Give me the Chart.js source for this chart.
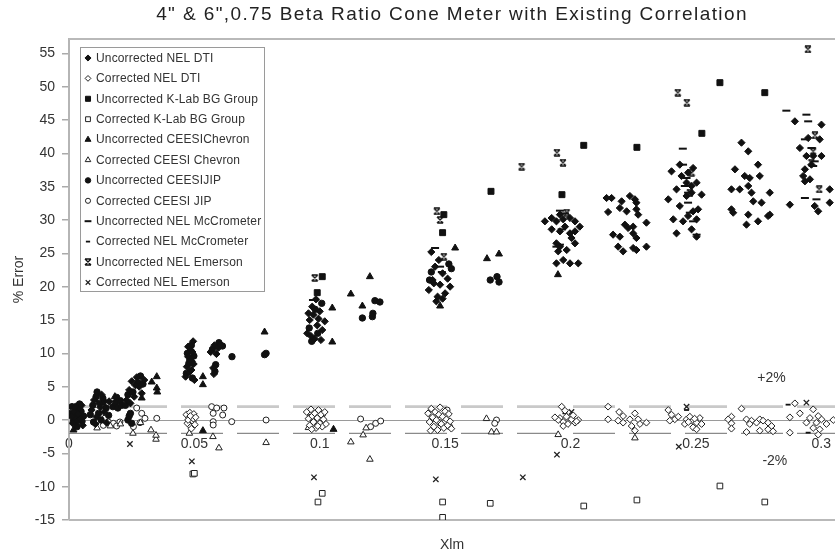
<!DOCTYPE html>
<html><head><meta charset="utf-8">
<script src="https://cdn.jsdelivr.net/npm/chart.js@4/dist/chart.umd.min.js"></script>
<style>html,body{margin:0;padding:0;background:#fff;}#wrap{width:835px;height:556px;position:relative;}</style>
</head><body><div id="wrap"><canvas id="c" width="835" height="556"></canvas></div>
<script>
const chartTitle = '4" & 6",0.75 Beta Ratio Cone Meter with Existing Correlation';
const xAxisTitle = 'Xlm';
const yAxisTitle = '% Error';
const xTicks = [0, 0.05, 0.1, 0.15, 0.2, 0.25, 0.3];
const xTickLabels = ['0', '0.05', '0.1', '0.15', '0.2', '0.25', '0.3'];
const yTicks = [-15, -10, -5, 0, 5, 10, 15, 20, 25, 30, 35, 40, 45, 50, 55];
const yTickLabels = ['-15', '-10', '-5', '0', '5', '10', '15', '20', '25', '30', '35', '40', '45', '50', '55'];
const bandLimits = [2, -2];
const bandLabels = ['+2%', '-2%'];
const bandLabelAt = [[0.2802, 6.3], [0.2815, -6.1]];
const seriesNames = ['Uncorrected NEL DTI', 'Corrected NEL DTI', 'Uncorrected K-Lab BG Group', 'Corrected K-Lab BG Group',
  'Uncorrected CEESIChevron', 'Corrected CEESI Chevron', 'Uncorrected CEESIJIP', 'Corrected CEESI JIP',
  'Uncorrected NEL McCrometer', 'Corrected NEL McCrometer', 'Uncorrected NEL Emerson', 'Corrected NEL Emerson'];

const uncorrectedNelDti = [
  [0.001,0.5],[0.002,1.2],[0.003,-0.3],[0.004,1.8],[0.0045,0.2],[0.005,2.2],[0.0055,-0.8],[0.0025,2.0],[0.0035,0.9],[0.0015,-0.5],
  [0.009,1.5],[0.010,3.0],[0.011,0.5],[0.012,2.5],[0.013,3.8],[0.014,1.2],[0.015,-0.4],[0.0105,-0.6],[0.0125,1.9],[0.016,2.8],
  [0.023,3.0],[0.024,4.5],[0.025,5.8],[0.026,3.5],[0.027,6.4],[0.028,5.0],[0.029,4.0],[0.0245,2.5],[0.0265,5.2],[0.030,6.0],
  [0.0465,6.5],[0.047,8.0],[0.0475,9.5],[0.048,7.2],[0.0485,10.5],[0.049,8.8],[0.0495,11.8],[0.050,6.0],[0.0475,11.0],[0.0482,9.0],[0.0488,7.5],[0.0492,10.2],[0.0497,8.4],
  [0.0565,10.2],[0.058,11.2],[0.0595,10.8],[0.0605,11.3],[0.0588,9.9],[0.0575,7.8],[0.0578,6.9],
  [0.095,13.0],[0.096,15.0],[0.097,17.0],[0.098,12.2],[0.099,14.2],[0.100,16.3],[0.101,13.5],[0.0965,12.6],[0.0975,15.8],[0.0985,18.1],[0.0995,15.2],[0.0955,16.0],[0.1005,12.0],[0.102,14.8],
  [0.1435,19.5],[0.145,21.0],[0.146,23.0],[0.147,18.5],[0.148,20.3],[0.149,22.0],[0.150,19.0],[0.151,21.2],[0.1445,25.2],[0.1465,17.8],[0.1475,24.0],[0.149,18.2],[0.152,20.0],[0.1455,20.5],
  [0.1898,29.8],[0.1925,30.3],[0.1944,29.8],[0.1971,30.1],[0.1998,30.3],[0.2018,29.8],[0.2037,29.0],[0.1925,28.6],[0.1958,28.3],[0.1998,28.0],[0.2004,27.3],[0.2018,26.5],
  [0.1944,26.5],[0.1958,26.0],[0.1985,25.5],[0.1951,25.3],[0.1971,24.0],[0.1998,23.5],[0.2031,23.5],[0.1944,23.5],[0.1958,30.8],[0.1978,29.0],[0.2018,28.3],
  [0.2144,33.3],[0.2164,33.3],[0.2204,32.8],[0.2237,33.6],[0.2257,33.1],[0.2263,32.6],[0.2150,31.2],[0.2197,31.8],[0.2224,31.3],[0.2263,31.6],[0.2270,30.8],[0.2303,29.6],
  [0.2217,29.3],[0.2230,28.8],[0.2170,27.8],[0.2197,27.5],[0.2250,28.0],[0.2263,27.3],[0.2190,26.0],[0.2210,25.3],[0.2250,25.8],[0.2263,25.5],[0.2303,26.0],[0.2250,29.0],
  [0.2403,37.3],[0.2436,38.3],[0.2469,37.1],[0.2489,37.8],[0.2390,33.1],[0.2423,34.6],[0.2436,32.1],[0.2463,33.6],[0.2483,34.1],[0.2503,35.6],[0.2523,33.8],[0.2410,30.1],
  [0.2423,28.0],[0.2449,29.8],[0.2469,30.6],[0.2489,31.3],[0.2503,30.1],[0.2509,31.6],[0.2483,28.6],[0.2503,27.5],[0.2443,36.6],[0.2463,35.6],[0.2483,35.1],
  [0.2682,41.6],[0.2709,40.3],[0.2748,38.3],[0.2656,37.6],[0.2695,36.6],[0.2715,36.3],[0.2642,34.6],[0.2675,34.6],[0.2709,35.1],[0.2722,34.1],[0.2755,36.6],
  [0.2795,34.1],[0.2729,32.8],[0.2762,32.6],[0.2642,31.6],[0.2649,31.1],[0.2709,30.8],[0.2702,29.3],[0.2748,29.8],[0.2788,30.6],[0.2795,30.8],
  [0.2895,44.8],[0.3001,44.3],[0.2915,40.8],[0.2948,42.3],[0.2994,42.1],[0.2941,39.6],[0.2968,39.6],[0.3001,39.6],[0.2935,37.6],[0.2961,38.3],[0.2935,35.8],
  [0.2955,36.1],[0.2875,32.3],[0.3034,34.6],[0.3034,32.6],[0.2974,32.1],[0.2988,31.3],[0.2928,36.6]
];
const correctedNelDti = [
  [0.0468,0.8],[0.0472,-0.5],[0.0478,0.3],[0.0482,1.1],[0.0486,-1.0],[0.049,0.5],[0.0494,-0.2],[0.0498,0.9],[0.0502,-0.7],[0.0475,0.0],[0.0488,-1.3],[0.0496,0.2],[0.0484,0.6],[0.0505,0.4],
  [0.0948,1.2],[0.0955,0.2],[0.096,-0.8],[0.0965,1.6],[0.097,0.6],[0.0975,-0.3],[0.098,1.0],[0.0985,-1.2],[0.099,0.3],[0.0995,1.5],[0.100,-0.5],[0.1005,0.8],[0.101,-1.0],[0.1015,0.1],[0.102,1.2],[0.1025,-0.6],[0.0968,-1.4],[0.0992,-0.9],
  [0.1432,1.0],[0.1438,-0.3],[0.1445,1.7],[0.145,0.4],[0.1455,-1.0],[0.146,1.2],[0.1465,0.0],[0.147,-1.5],[0.1475,0.8],[0.148,1.9],[0.1485,-0.6],[0.149,0.5],[0.1495,-1.2],[0.150,1.3],[0.1505,0.1],[0.151,-0.8],[0.1515,0.9],[0.152,-0.2],[0.1525,-1.3],[0.1442,-1.6],
  [0.1958,0.3],[0.1971,-0.3],[0.1984,0.5],[0.2004,0.1],[0.2018,-0.4],[0.2031,0.0],[0.1971,-0.9],[0.1990,-0.6],[0.2011,0.7],[0.1951,0.0],[0.1978,1.4],[0.1965,2.0],[0.2024,-0.2],[0.1938,0.4],
  [0.2150,2.0],[0.2194,1.2],[0.2150,0.1],[0.2190,-0.1],[0.2210,-0.4],[0.2237,0.1],[0.2257,1.0],[0.2270,0.1],[0.2277,-0.6],[0.2303,-0.4],[0.2244,-0.9],[0.2257,-1.6],[0.2210,0.6],
  [0.2390,1.5],[0.2403,0.8],[0.2416,0.1],[0.2430,0.5],[0.2463,0.1],[0.2483,-0.1],[0.2503,-0.4],[0.2516,0.3],[0.2489,-1.1],[0.2503,-1.4],[0.2523,-0.6],[0.2476,0.5],[0.2456,-0.6],[0.2396,-0.1],[0.2470,-0.3],[0.2495,0.2],
  [0.2642,0.5],[0.2682,1.7],[0.2642,-0.5],[0.2642,-1.3],[0.2702,0.1],[0.2722,-0.1],[0.2742,-0.4],[0.2755,0.1],[0.2768,-0.1],[0.2788,-0.4],[0.2802,-0.9],[0.2808,-1.7],[0.2702,-1.8],[0.2755,-1.6],[0.2788,-1.4],[0.2715,-0.6],[0.2629,0.1],
  [0.2895,2.5],[0.2915,1.0],[0.2955,0.3],[0.2981,-0.4],[0.3001,0.1],[0.3021,-0.6],[0.3048,0.0],[0.2875,-1.9],[0.2968,-1.2],[0.2994,-1.4],[0.2988,-2.2],[0.2941,-0.4],[0.2968,1.6],[0.2988,0.6],[0.2875,0.4]
];
const uncorrectedKLab = [[0.099,19.1],[0.101,21.5],[0.149,28.1],[0.1495,30.8],[0.1683,34.3],[0.1966,33.8],[0.2053,41.2],[0.2265,40.9],[0.2524,43.0],[0.2596,50.6],[0.2775,49.1]];
const correctedKLab = [[0.0494,-8.1],[0.0500,-8.0],[0.101,-11.0],[0.0993,-12.3],[0.149,-12.3],[0.149,-14.6],[0.168,-12.5],[0.2053,-12.9],[0.2265,-12.0],[0.2596,-9.9],[0.2775,-12.3]];
const uncorrectedChevron = [[0.0018,-1.5],[0.0105,3.0],[0.0135,2.5],[0.0183,3.5],[0.029,3.3],[0.033,5.7],[0.035,6.5],[0.035,4.8],[0.0352,4.2],
  [0.0534,6.5],[0.0534,5.3],[0.0534,-1.6],[0.078,13.2],[0.105,16.8],[0.105,11.7],[0.1055,-1.4],[0.1124,18.9],[0.120,21.5],[0.117,17.1],
  [0.154,25.8],[0.148,17.1],[0.1667,24.2],[0.1715,24.9],[0.195,21.8]];
const correctedChevron = [[0.0112,-1.2],[0.0165,-0.9],[0.0205,-0.6],[0.0255,-2.0],[0.0285,-0.4],[0.0327,-1.5],[0.0347,-2.9],[0.0347,-2.3],[0.048,-2.0],
  [0.0574,-2.5],[0.0598,-4.2],[0.0786,-3.4],[0.0955,-1.15],[0.1124,-3.3],[0.120,-5.9],[0.1173,-2.25],[0.1185,-1.2],[0.1665,0.2],[0.1685,-1.8],
  [0.1705,-1.8],[0.1951,-2.2],[0.2257,-2.7]];
const uncorrectedJip = [
  [0.0008,1.0],[0.0018,-0.2],[0.0028,1.6],[0.0038,0.3],[0.0048,1.3],[0.0058,0.6],[0.0012,2.0],[0.0032,-1.0],[0.0052,-0.2],[0.0022,0.6],[0.0042,2.4],
  [0.0085,0.8],[0.0095,2.2],[0.0108,3.5],[0.0118,1.0],[0.0128,0.0],[0.0138,2.8],[0.0148,1.8],[0.0158,0.7],[0.0112,4.2],[0.0098,-0.3],[0.0135,3.3],
  [0.0175,2.0],[0.0185,2.6],[0.0195,1.8],[0.0205,2.9],[0.021,2.2],[0.019,3.4],
  [0.0235,3.8],[0.0255,4.2],[0.0275,5.6],[0.0285,6.6],[0.0225,2.2],[0.0295,5.4],
  [0.0235,0.0],[0.024,0.6],[0.025,-0.5],[0.0245,1.0],
  [0.0468,7.0],[0.0478,8.5],[0.0488,11.2],[0.0498,9.6],[0.0472,10.0],[0.0492,6.3],
  [0.0572,10.6],[0.0598,11.6],[0.0612,11.1],[0.0585,8.3],[0.0582,7.3],
  [0.0650,9.5],[0.0786,10.0],[0.0780,9.8],
  [0.0958,13.8],[0.0982,16.6],[0.1008,17.5],[0.0968,11.8],[0.0992,13.0],
  [0.117,15.3],[0.121,15.5],[0.1212,16.0],[0.122,17.9],[0.124,17.7],
  [0.1445,22.2],[0.1515,23.4],[0.1525,22.7],[0.1438,21.0],
  [0.168,21.0],[0.1707,21.5],[0.1715,20.7]
];
const correctedJip = [
  [0.011,-0.2],[0.0137,-0.8],[0.0144,0.3],[0.0157,-0.3],[0.0177,-0.5],[0.019,-0.9],[0.0203,-0.3],[0.0257,-1.0],[0.027,1.8],[0.0283,-0.4],[0.029,1.0],[0.0303,0.25],[0.035,0.25],
  [0.0569,2.0],[0.0589,1.8],[0.0618,1.8],[0.0575,1.0],[0.0613,0.75],[0.0575,-0.25],[0.0575,-0.75],[0.0649,-0.25],[0.0786,0.0],
  [0.0962,0.4],[0.0988,-0.2],[0.1012,0.9],[0.1163,0.15],[0.1203,-1.0],[0.1223,-0.5],[0.1243,-0.15],
  [0.1448,0.2],[0.1478,-0.4],[0.1508,1.5],[0.1518,-1.0],[0.1705,0.0],[0.1698,-0.5]
];
const uncorrectedMcCrometer = [[0.0973,18.0],[0.146,25.8],[0.148,23.0],[0.1487,22.2],[0.1958,31.4],[0.1978,31.0],[0.1965,28.6],[0.1958,26.3],[0.1944,26.0],
  [0.2448,40.7],[0.2449,38.3],[0.2463,36.3],[0.2456,35.1],[0.2469,32.6],[0.2476,31.1],[0.2489,29.8],[0.2503,27.8],[0.2469,34.1],
  [0.2861,46.4],[0.2941,45.8],[0.2948,44.8],[0.2935,42.1],[0.2961,40.8],[0.2974,38.8],[0.2968,38.1],[0.2935,33.3],[0.2981,33.1]];
const correctedMcCrometer = [[0.2868,2.3],[0.2948,-1.9],[0.1978,1.0],[0.2463,1.5]];
const uncorrectedEmerson = [[0.098,21.3],[0.1467,31.3],[0.148,30.0],[0.1495,24.5],[0.1805,38.0],[0.1946,40.1],[0.197,38.6],[0.1985,31.1],
  [0.2428,49.1],[0.2464,47.6],[0.2483,37.1],[0.2476,34.1],[0.2947,55.6],[0.2975,42.7],[0.2992,34.6],[0.2968,40.3],[0.2961,38.6]];
const correctedEmerson = [[0.0243,-3.6],[0.049,-6.2],[0.0977,-8.6],[0.1463,-8.9],[0.181,-8.6],[0.1946,-5.2],[0.2432,-4.0],[0.2463,2.0],[0.2941,2.6],[0.2004,1.2]];

function makeStar(size, lw) {
  const c = document.createElement('canvas');
  c.width = size; c.height = size;
  const g = c.getContext('2d');
  g.strokeStyle = '#111'; g.lineWidth = lw;
  const a = 1, b = size - 1;
  g.beginPath();
  g.moveTo(a, a); g.lineTo(b, b); g.moveTo(b, a); g.lineTo(a, b);
  g.moveTo(a, a); g.lineTo(b, a); g.moveTo(a, b); g.lineTo(b, b);
  g.stroke();
  return c;
}
const starMarker = makeStar(8, 1.4);

const BLACK = '#111';
const styles = [
  {pointStyle: 'rectRot', radius: 3.6, fill: BLACK, border: BLACK, bw: 1},
  {pointStyle: 'rectRot', radius: 3.4, fill: '#fff', border: '#222', bw: 1},
  {pointStyle: 'rect', radius: 4.2, fill: BLACK, border: BLACK, bw: 1},
  {pointStyle: 'rect', radius: 4.0, fill: '#fff', border: '#222', bw: 1},
  {pointStyle: 'triangle', radius: 4.0, fill: BLACK, border: BLACK, bw: 1},
  {pointStyle: 'triangle', radius: 3.8, fill: '#fff', border: '#222', bw: 1},
  {pointStyle: 'circle', radius: 3.2, fill: BLACK, border: BLACK, bw: 1},
  {pointStyle: 'circle', radius: 3.0, fill: '#fff', border: '#222', bw: 1},
  {pointStyle: 'line', radius: 4.0, fill: BLACK, border: BLACK, bw: 2},
  {pointStyle: 'line', radius: 2.5, fill: BLACK, border: BLACK, bw: 1.8},
  {pointStyle: starMarker, radius: 4, fill: BLACK, border: BLACK, bw: 1},
  {pointStyle: 'crossRot', radius: 3.8, fill: BLACK, border: '#222', bw: 1.3}
];
const seriesData = [uncorrectedNelDti, correctedNelDti, uncorrectedKLab, correctedKLab, uncorrectedChevron, correctedChevron,
  uncorrectedJip, correctedJip, uncorrectedMcCrometer, correctedMcCrometer, uncorrectedEmerson, correctedEmerson];

const toPts = arr => arr.map(p => ({x: p[0], y: p[1]}));
const X_MIN = 0, X_MAX = 0.3055, Y_MIN = -15, Y_MAX = 57.15;

const datasets = seriesNames.map((name, i) => ({
  label: name,
  data: toPts(seriesData[i]),
  pointStyle: styles[i].pointStyle,
  pointRadius: styles[i].radius,
  pointBackgroundColor: styles[i].fill,
  pointBorderColor: styles[i].border,
  pointBorderWidth: styles[i].bw,
  showLine: false
}));
const bandStyles = [{color: '#c9c9c9', width: 2.6}, {color: '#8a8a8a', width: 1.3}];
bandLimits.forEach((v, i) => {
  datasets.push({
    label: bandLabels[i], data: [{x: X_MIN, y: v}, {x: X_MAX, y: v}], showLine: true,
    borderColor: bandStyles[i].color, borderWidth: bandStyles[i].width, borderDash: [42, 14],
    pointRadius: 0, order: 100
  });
});

const FONT = "'Liberation Sans', Arial, Helvetica, sans-serif";

const decorPlugin = {
  id: 'decor',
  beforeDatasetsDraw(chart) {
    const {ctx, chartArea: a} = chart;
    ctx.save();
    ctx.strokeStyle = '#b9b9b9'; ctx.lineWidth = 2;
    ctx.beginPath();
    ctx.moveTo(a.left, a.top); ctx.lineTo(a.right, a.top);
    ctx.moveTo(a.left, a.bottom); ctx.lineTo(a.right, a.bottom);
    ctx.stroke();
    ctx.restore();
  },
  afterDraw(chart) {
    const {ctx, chartArea: a, scales} = chart;
    const xs = scales.x, ys = scales.y;
    ctx.save();
    ctx.fillStyle = '#222';
    ctx.font = '19px ' + FONT;
    ctx.textAlign = 'center'; ctx.textBaseline = 'middle';
    if ('letterSpacing' in ctx) ctx.letterSpacing = '1.4px';
    ctx.fillText(chartTitle, (a.left + a.right) / 2, 15);
    if ('letterSpacing' in ctx) ctx.letterSpacing = '0px';
    ctx.font = '14px ' + FONT;
    ctx.fillStyle = '#333';
    ctx.fillText(xAxisTitle, (a.left + a.right) / 2, 545);
    bandLabels.forEach((t, i) => {
      ctx.fillText(t, xs.getPixelForValue(bandLabelAt[i][0]), ys.getPixelForValue(bandLabelAt[i][1]));
    });
    const lx = 80, ly = 47, lw = 184, lh = 244, rowH = 20.4;
    ctx.fillStyle = '#fff';
    ctx.fillRect(lx, ly, lw, lh);
    ctx.strokeStyle = '#9a9a9a'; ctx.lineWidth = 1;
    ctx.strokeRect(lx + 0.5, ly + 0.5, lw, lh);
    ctx.font = '12px ' + FONT;
    ctx.textAlign = 'left';
    if ('letterSpacing' in ctx) ctx.letterSpacing = '0.15px';
    seriesNames.forEach((name, i) => {
      const y = ly + 11 + i * rowH;
      const s = styles[i];
      ctx.fillStyle = s.fill; ctx.strokeStyle = s.border; ctx.lineWidth = s.bw;
      Chart.helpers.drawPoint(ctx, {pointStyle: s.pointStyle, radius: s.radius * 0.85, rotation: 0, borderWidth: s.bw}, lx + 8, y);
      ctx.fillStyle = '#333';
      ctx.fillText(name, lx + 16, y + 0.5);
    });
    ctx.restore();
  }
};

new Chart(document.getElementById('c'), {
  type: 'scatter',
  data: {datasets},
  options: {
    responsive: false,
    animation: false,
    layout: {autoPadding: false, padding: {top: 39, bottom: 36, left: 0, right: 0}},
    plugins: {legend: {display: false}, tooltip: {enabled: false}, title: {display: false}},
    scales: {
      x: {
        type: 'linear', min: X_MIN, max: X_MAX,
        position: {y: 0},
        grid: {display: false, drawTicks: false},
        border: {display: true, color: '#9a9a9a', width: 1},
        afterBuildTicks: s => { s.ticks = xTicks.map(v => ({value: v})); },
        afterFit: s => { s.paddingLeft = 0; s.paddingRight = 0; s.paddingTop = 0; s.paddingBottom = 0; },
        ticks: {
          padding: 16, maxRotation: 0, autoSkip: false, color: '#333', font: {size: 14, family: FONT},
          callback: (v) => { const k = xTicks.findIndex(t => Math.abs(t - v) < 1e-9); return k >= 0 ? xTickLabels[k] : ''; }
        }
      },
      y: {
        type: 'linear', min: Y_MIN, max: Y_MAX, position: 'left',
        grid: {drawOnChartArea: false, drawTicks: true, tickLength: 7, color: '#aaa', lineWidth: 1.5},
        border: {display: true, color: '#b5b5b5', width: 2},
        afterBuildTicks: s => { s.ticks = yTicks.map(v => ({value: v})); },
        afterFit: s => { s.width = 69; s.paddingTop = 0; s.paddingBottom = 0; },
        title: {display: true, text: yAxisTitle, color: '#333', font: {size: 14, family: FONT}, padding: {top: 11, bottom: 0}},
        ticks: {
          padding: 7, autoSkip: false, color: '#333', font: {size: 14, family: FONT},
          callback: (v) => { const k = yTicks.indexOf(v); return k >= 0 ? yTickLabels[k] : ''; }
        }
      }
    }
  },
  plugins: [decorPlugin]
});
</script>
</body></html>
